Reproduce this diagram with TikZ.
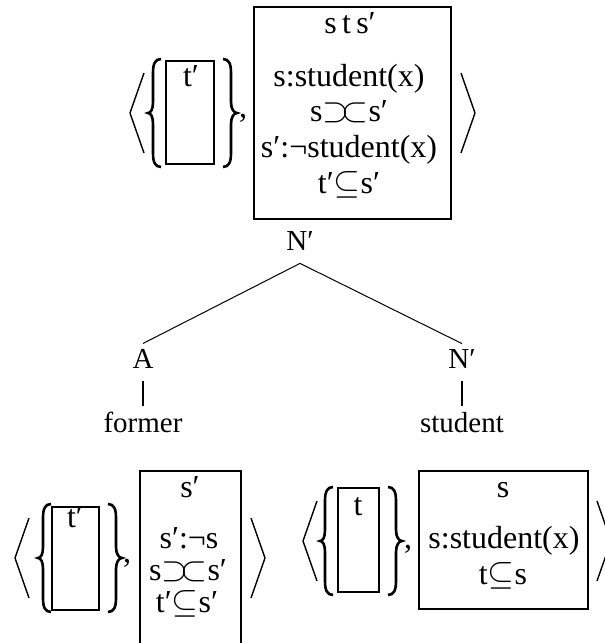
\documentclass[tikz,border=0pt]{standalone}
\usepackage{fontspec}
\setmainfont{Liberation Serif}
\usetikzlibrary{positioning}

\begin{document}
\begin{tikzpicture}[x=0.5pt,y=-0.5pt,
  txt/.style={font=\fontsize{16}{19}\selectfont,inner sep=0pt,anchor=base},
  cat/.style={font=\fontsize{14.5}{17}\selectfont,inner sep=2.5pt,anchor=base},
  drs/.style={line width=1.3pt},
  curly/.style={line width=1.3pt},
  angle/.style={line width=0.7pt},
  branch/.style={line width=0.5pt},
  stem/.style={line width=1pt}]

\useasboundingbox (0,0) rectangle (605,643);
\clip (0,0) rectangle (605,643);

% Chaves { }
\foreach \xl/\xr/\ym in {148/237/113, 38/122/558, 320/402/541} {
  \draw[curly] (\xl+13,\ym-54) .. controls (\xl+7,\ym-54) and (\xl+5,\ym-49) .. (\xl+5,\ym-40)
    -- (\xl+5,\ym-11) .. controls (\xl+5,\ym-4) and (\xl+3,\ym) .. (\xl,\ym)
    .. controls (\xl+3,\ym) and (\xl+5,\ym+4) .. (\xl+5,\ym+11)
    -- (\xl+5,\ym+40) .. controls (\xl+5,\ym+49) and (\xl+7,\ym+54) .. (\xl+13,\ym+54);
  \draw[curly] (\xr-14,\ym-54) .. controls (\xr-8,\ym-54) and (\xr-6,\ym-49) .. (\xr-6,\ym-40)
    -- (\xr-6,\ym-11) .. controls (\xr-6,\ym-4) and (\xr-3,\ym) .. (\xr,\ym)
    .. controls (\xr-3,\ym) and (\xr-6,\ym+4) .. (\xr-6,\ym+11)
    -- (\xr-6,\ym+40) .. controls (\xr-6,\ym+49) and (\xr-8,\ym+54) .. (\xr-14,\ym+54);
}

% Parenteses angulares
\foreach \al/\ar/\ym in {130/475/113, 15/265/558, 303/611/541} {
  \draw[angle] (\al+14,\ym-40) -- (\al,\ym) -- (\al+14,\ym+40);
  \draw[angle] (\ar-14,\ym-40) -- (\ar,\ym) -- (\ar-14,\ym+40);
}

% DRS de N' (topo)
\draw[drs] (166,61) rectangle (214,164);
\node[txt] (tA) at (191,86) {t′};
\node[txt] (vA) at (243,117) {,};
\draw[drs] (254,7) rectangle (451,219);
\node[txt] (hA) at (350,33) {s\,t\,s′};
\node[txt] (cA1) at (349,86) {s:student(x)};
\node[txt] (cA2) at (349,121) {s$\supset\mkern-4mu\subset$s′};
\node[txt] (cA3) at (349,157) {s′:¬student(x)};
\node[txt] (cA4) at (349,193) {t′$\subseteq$s′};

% Arvore
\node[cat] (np) at (300,250) {N′};
\node[cat] (adj) at (143,368) {A};
\node[cat] (nb) at (462,368) {N′};
\node[cat] (fo) at (143,432) {former};
\node[cat] (st) at (462,432) {student};
\draw[branch] (adj.north) -- ([yshift=-4pt]np.south) -- (nb.north);
\draw[stem, shorten <=4pt] (adj.south) -- (fo.north);
\draw[stem, shorten <=4pt] (nb.south) -- (st.north);

% DRS de former
\draw[drs] (52,507) rectangle (99,610);
\node[txt] (tB) at (75,527) {t′};
\node[txt] (vB) at (127,562) {,};
\draw[drs] (140,650) -- (140,471) -- (241,471) -- (241,650);
\node[txt] (hB) at (190,497) {s′};
\node[txt] (cB1) at (189,548) {s′:¬s};
\node[txt] (cB2) at (188,580) {s$\supset\mkern-4mu\subset$s′};
\node[txt] (cB3) at (187,612) {t′$\subseteq$s′};

% DRS de student
\draw[drs] (338,488) rectangle (379,592);
\node[txt] (tC) at (358,515) {t};
\node[txt] (vC) at (408,548) {,};
\draw[drs] (419,471) rectangle (588,609);
\node[txt] (hC) at (503,497) {s};
\node[txt] (cC1) at (504,548) {s:student(x)};
\node[txt] (cC2) at (503,584) {t$\subseteq$s};

\end{tikzpicture}
\end{document}
